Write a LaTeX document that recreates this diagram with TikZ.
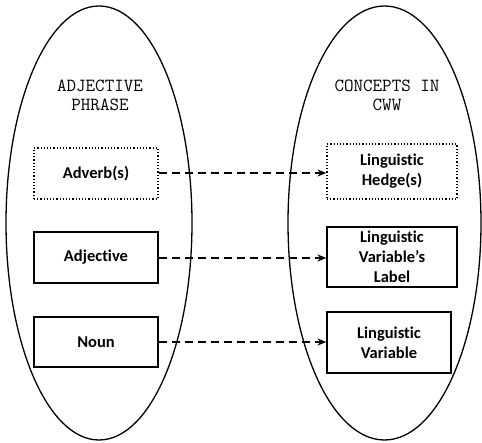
\documentclass[tikz,border=0pt]{standalone}
\usepackage{fontspec}
\setmainfont{Carlito}[Ligatures=NoCommon]
\usetikzlibrary{arrows.meta}
\begin{document}
\begin{tikzpicture}[x=1pt,y=-1pt,
  oval/.style={draw,line width=1.3pt},
  boxs/.style={draw,line width=1.2pt,font=\fontsize{16.5}{20}\selectfont\bfseries,align=center,inner sep=0pt},
  dotbox/.style={boxs,dotted},
  ttl/.style={font=\ttfamily\fontsize{18.5}{19}\selectfont,align=center},
  conn/.style={line width=1.5pt,dash pattern=on 8pt off 5pt,-{Stealth[length=9pt,width=7pt,inset=3pt]}}]
\useasboundingbox (0,0) rectangle (482,443);
\draw[oval] (99,223) ellipse [x radius=93, y radius=217];
\draw[oval] (384.5,223) ellipse [x radius=96.5, y radius=217];
\node[ttl] (t1) at (100,95) {ADJECTIVE\\PHRASE};
\node[ttl] (t2) at (387,95) {CONCEPTS IN\\CWW};
\node[dotbox,minimum width=124pt,minimum height=51pt] (a1) at (96,173.5) {Adverb(s)};
\node[boxs,minimum width=124pt,minimum height=51pt] (a2) at (96,257.5) {Adjective};
\node[boxs,minimum width=124pt,minimum height=50pt] (a3) at (96,342) {Noun};
\node[dotbox,minimum width=130pt,minimum height=55pt] (b1) at (392,171.5) {Linguistic\\Hedge(s)};
\node[boxs,minimum width=130pt,minimum height=60pt] (b2) at (392,257) {Linguistic\\Variable’s\\Label};
\node[boxs,minimum width=124pt,minimum height=61pt] (b3) at (389,342.5) {Linguistic\\Variable};
\draw[conn] (a1.east |- 0,173) -- (b1.west |- 0,173);
\draw[conn] (a2.east |- 0,258) -- (b2.west |- 0,258);
\draw[conn] (a3.east |- 0,342) -- (b3.west |- 0,342);
\end{tikzpicture}
\end{document}
